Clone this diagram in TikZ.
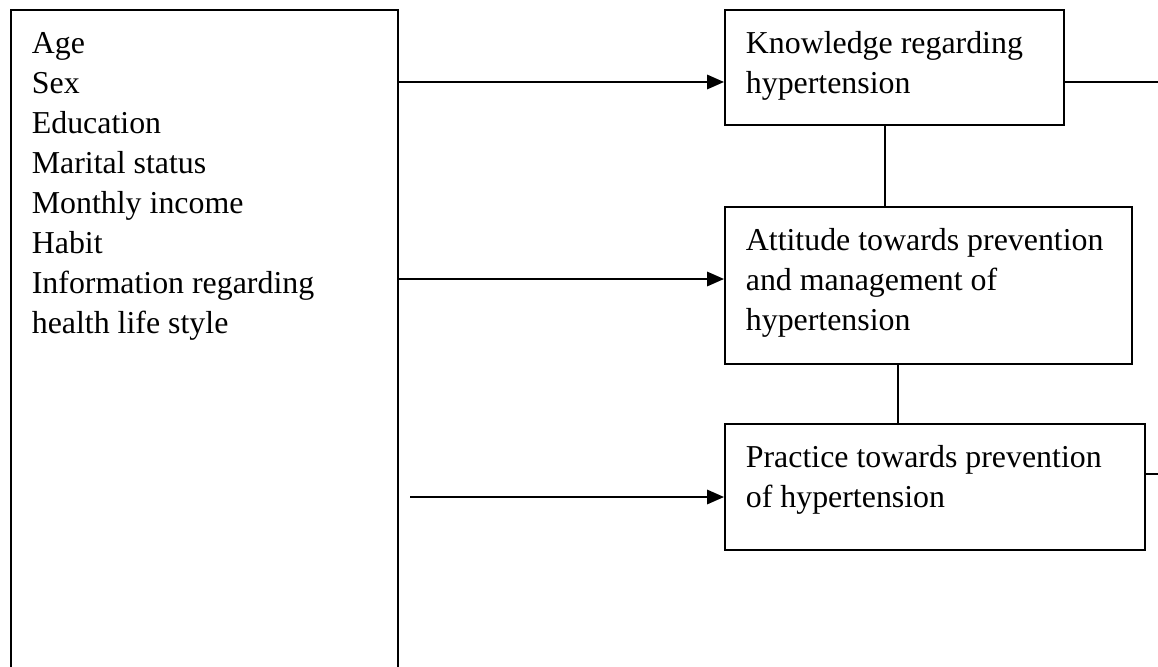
\documentclass[tikz,border=0pt]{standalone}
\usepackage{fontspec}
\setmainfont{Liberation Serif}
\usetikzlibrary{arrows.meta}
\newcommand{\boxlines}[3]{\parbox[c][#2][t]{#1}{\strut #3}}
\tikzset{
  factor/.style={draw, line width=0.7pt, anchor=north west, inner xsep=8.4pt, inner ysep=6.4pt, font=\fontsize{12.75}{16}\selectfont},
  flow/.style={line width=0.7pt, -{Triangle[length=6.8pt,width=5.8pt]}},
  link/.style={line width=0.7pt}
}
\begin{document}
\begin{tikzpicture}[x=0.4pt,y=-0.4pt]
\useasboundingbox (0,0) rectangle (1158,666);
\clip (0,0) rectangle (1158,666);
% factors
\node[factor] (socio) at (10,9) {\boxlines{138pt}{255.6pt}{Age\\Sex\\Education\\Marital status\\Monthly income\\Habit\\Information regarding\\health life style}};
\node[factor] (know) at (724,9) {\boxlines{118.8pt}{33.2pt}{Knowledge regarding\\hypertension}};
\node[factor] (att) at (724,206) {\boxlines{146pt}{50pt}{Attitude towards prevention\\and management of\\hypertension}};
\node[factor] (prac) at (724,423) {\boxlines{151.2pt}{37.6pt}{Practice towards prevention\\of hypertension}};
\coordinate (pstart) at (410,497);
\coordinate (kout) at (1158,82);
\coordinate (pout) at (1158,474);
% arrows
\draw[flow] (socio.east |- 0,82) -- (know.west |- 0,82);
\draw[flow] (socio.east |- 0,279) -- (att.west |- 0,279);
\draw[flow] (pstart) -- (prac.west |- pstart);
% links
\draw[link] (know.south -| 885,0) -- (att.north -| 885,0);
\draw[link] (att.south -| 898,0) -- (prac.north -| 898,0);
\draw[link] (know.east |- kout) -- (kout);
\draw[link] (prac.east |- pout) -- (pout);
\end{tikzpicture}
\end{document}
